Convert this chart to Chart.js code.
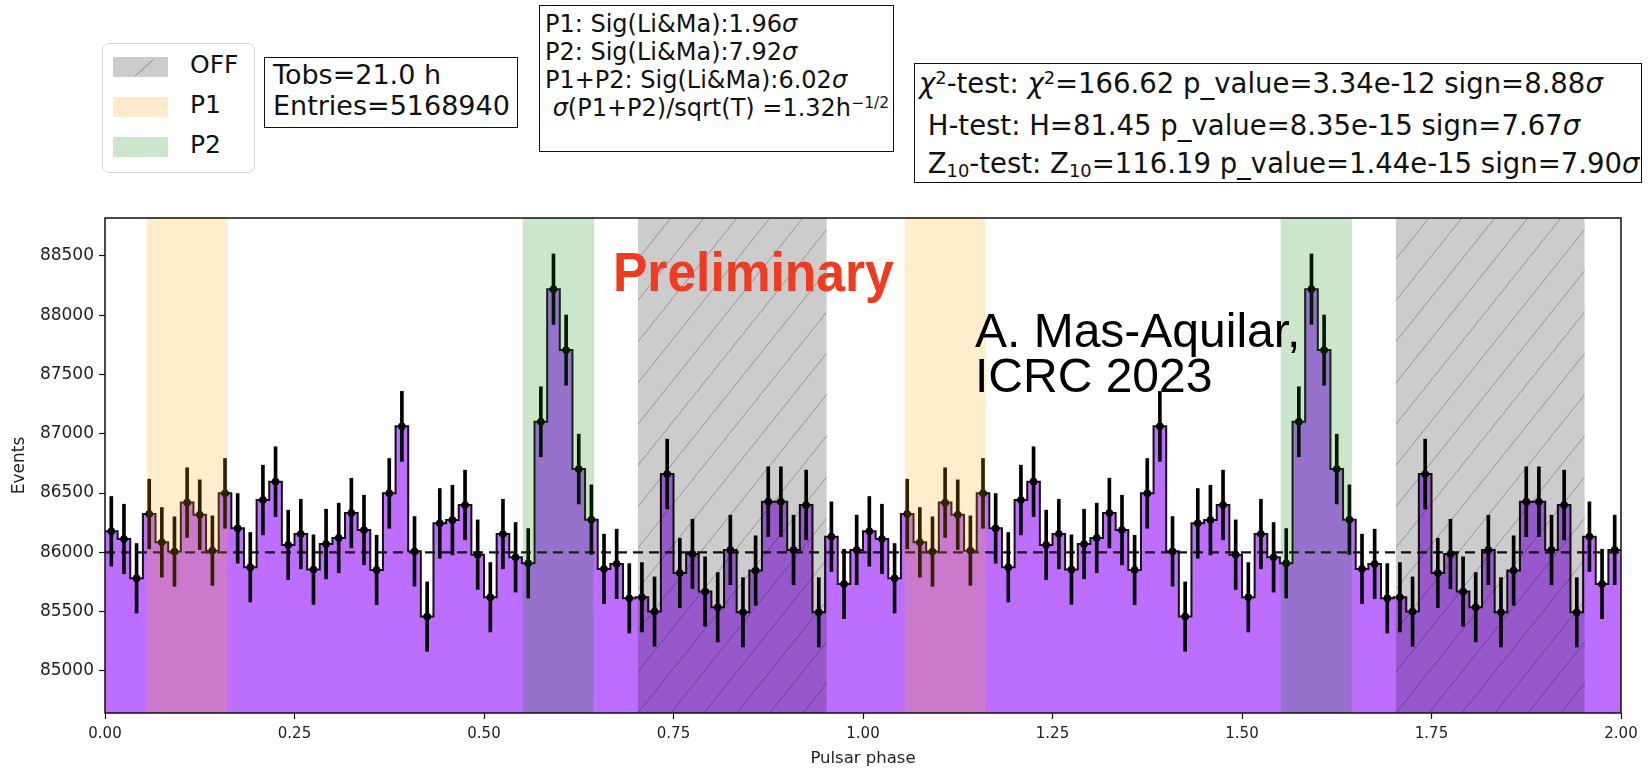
<!DOCTYPE html>
<html>
<head>
<meta charset="utf-8">
<script src="https://cdn.jsdelivr.net/npm/chart.js@4.4.1/dist/chart.umd.min.js"></script>
<style>
  html, body { margin: 0; padding: 0; background: #fff; }
  #wrap { position: relative; width: 1648px; height: 775px; overflow: hidden; }
  #c { position: absolute; left: 0; top: 0; }
  .box { position: absolute; box-sizing: border-box; border: 1.5px solid #111; background: #fff;
         font-family: 'DejaVu Sans', sans-serif; color: #111; white-space: pre; }
  .legend { position: absolute; box-sizing: border-box; border: 1.5px solid #d4d4d4; border-radius: 7px;
            background: #fff; font-family: 'DejaVu Sans', sans-serif; color: #111; }
  .lrow { position: absolute; left: 10px; height: 20px; }
  .lrow .patch { position: absolute; left: 0; top: 0; width: 55px; height: 20px; }
  .lrow .lab { position: absolute; left: 77px; top: -8px; font-size: 25px; line-height: 32px; }
  .prelim { position: absolute; font-family: 'Liberation Sans', Arial, sans-serif; font-weight: bold;
            color: #ef3b1f; font-size: 56px; line-height: 56px; transform: scaleX(0.92); transform-origin: left top; white-space: nowrap; }
  .author { position: absolute; font-family: 'Liberation Sans', Arial, sans-serif; color: #000;
            font-size: 48px; line-height: 45px; white-space: pre; }
  i { font-style: italic; }
  sup { font-size: 65%; vertical-align: 0; position: relative; top: -0.5em; }
  sub { font-size: 65%; vertical-align: 0; position: relative; top: 0.25em; }
</style>
</head>
<body>
<div id="wrap">
  <canvas id="c" width="1648" height="775"></canvas>

  <div class="legend" style="left:102px; top:43px; width:153px; height:130px;">
    <div class="lrow" style="top:13px;">
      <svg class="patch" width="55" height="20" viewBox="0 0 55 20">
        <rect x="0" y="0" width="55" height="20" fill="#cccccc"/>
        <line x1="22" y1="19" x2="40" y2="3" stroke="#8a8a8a" stroke-width="1"/>
      </svg>
      <div class="lab">OFF</div>
    </div>
    <div class="lrow" style="top:53px;">
      <div class="patch" style="background:#ffebcc;"></div>
      <div class="lab">P1</div>
    </div>
    <div class="lrow" style="top:93px;">
      <div class="patch" style="background:#cce6cc;"></div>
      <div class="lab">P2</div>
    </div>
  </div>

  <div class="box" style="left:264px; top:57px; width:254px; height:71px; font-size:27px; line-height:30.5px; padding:2px 0 0 8px;">Tobs=21.0 h
Entries=5168940</div>

  <div class="box" style="left:539px; top:5px; width:355px; height:147px; font-size:24px; line-height:28px; padding:4px 0 0 5px;">P1: Sig(Li&amp;Ma):1.96<i>σ</i>
P2: Sig(Li&amp;Ma):7.92<i>σ</i>
P1+P2: Sig(Li&amp;Ma):6.02<i>σ</i>
 <i>σ</i>(P1+P2)/sqrt(T) =1.32h<sup>−1/2</sup></div>

  <div class="box" style="left:914px; top:63px; width:728px; height:120px; font-size:27.5px; line-height:38px; padding:0 0 0 4px;"><i>χ</i><sup>2</sup>-test: <i>χ</i><sup>2</sup>=166.62 p_value=3.34e-12 sign=8.88<i>σ</i>
 H-test: H=81.45 p_value=8.35e-15 sign=7.67<i>σ</i>
 Z<sub>10</sub>-test: Z<sub>10</sub>=116.19 p_value=1.44e-15 sign=7.90<i>σ</i></div>

  <div class="prelim" style="left:613px; top:244px;">Preliminary</div>
  <div class="author" style="left:975px; top:308px;">A. Mas-Aquilar,
ICRC 2023</div>
</div>

<script>
// ---- data (one pulsar cycle, 60 phase bins) ----
const binsPerCycle = 60;
const counts = [
  86177, 86112, 85781, 86323, 86084, 86006, 86419, 86317, 86014, 86497,
  86202, 85874, 86441, 86596, 86062, 86154, 85854, 86070, 86121, 86331,
  86188, 85851, 86497, 87062, 86008, 85458, 86244, 86272, 86399, 85980,
  85621, 86154, 85958, 85907, 87101, 88219, 87705, 86702, 86275, 85860,
  85902, 85612, 85621, 85500, 86660, 85826, 85986, 85669, 85537, 86020,
  85494, 85846, 86427, 86427, 86020, 86399, 85494, 86132, 85733, 86020
];
const backgroundLevel = 86000;
const xTickValues = [0, 0.25, 0.5, 0.75, 1.0, 1.25, 1.5, 1.75, 2.0];
const xTickLabels = ['0.00', '0.25', '0.50', '0.75', '1.00', '1.25', '1.50', '1.75', '2.00'];
const yTickValues = [85000, 85500, 86000, 86500, 87000, 87500, 88000, 88500];
const yTickLabels = ['85000', '85500', '86000', '86500', '87000', '87500', '88000', '88500'];
const xRange = [0, 2];
const yRange = [84645, 88819];
// phase regions (first cycle; repeated in second)
const offRegion = [0.703, 0.952];
const p1Region = [0.055, 0.162];
const p2Region = [0.551, 0.645];

// ---- derived series (two cycles drawn) ----
const phaseCounts = counts.concat(counts);
const binW = 1 / binsPerCycle;
const histPts = phaseCounts.map((c, i) => ({ x: i * binW, y: c }));
histPts.push({ x: 2, y: phaseCounts[phaseCounts.length - 1] });
const centers = phaseCounts.map((c, i) => (i + 0.5) * binW);
const errPts = phaseCounts.map((c, i) => ({ x: centers[i], y: [c - Math.sqrt(c), c + Math.sqrt(c)] }));
const dotPts = phaseCounts.map((c, i) => ({ x: centers[i], y: c }));
const basePts = [{ x: xRange[0], y: backgroundLevel }, { x: xRange[1], y: backgroundLevel }];

const regions = [];
[0, 1].forEach(k => {
  regions.push({ r: [p1Region[0] + k, p1Region[1] + k], color: 'rgba(255,165,0,0.2)', hatch: false });
  regions.push({ r: [p2Region[0] + k, p2Region[1] + k], color: 'rgba(0,128,0,0.2)', hatch: false });
  regions.push({ r: [offRegion[0] + k, offRegion[1] + k], color: 'rgba(0,0,0,0.2)', hatch: true });
});

const overlayPlugin = {
  id: 'overlay',
  afterDatasetsDraw(chart) {
    const { ctx, chartArea: a, scales: { x } } = chart;
    ctx.save();
    ctx.beginPath();
    ctx.rect(a.left, a.top, a.right - a.left, a.bottom - a.top);
    ctx.clip();
    regions.forEach(reg => {
      const x1 = x.getPixelForValue(reg.r[0]);
      const x2 = x.getPixelForValue(reg.r[1]);
      ctx.fillStyle = reg.color;
      ctx.fillRect(x1, a.top, x2 - x1, a.bottom - a.top);
      if (reg.hatch) {
        ctx.save();
        ctx.beginPath();
        ctx.rect(x1, a.top, x2 - x1, a.bottom - a.top);
        ctx.clip();
        ctx.strokeStyle = 'rgba(0,0,0,0.28)';
        ctx.lineWidth = 1;
        const H = a.bottom - a.top;
        const slope = 1.25;
        const dx = H / slope;
        const sp = 33;
        ctx.beginPath();
        for (let x0 = x1 - dx - sp; x0 < x2 + sp; x0 += sp) {
          ctx.moveTo(x0, a.bottom);
          ctx.lineTo(x0 + dx, a.top);
        }
        ctx.stroke();
        ctx.restore();
      }
    });
    ctx.restore();
    ctx.save();
    ctx.strokeStyle = '#111';
    ctx.lineWidth = 1.5;
    ctx.strokeRect(a.left, a.top, a.right - a.left, a.bottom - a.top);
    ctx.restore();
  }
};

const xTickFont = { family: "'DejaVu Sans', sans-serif", size: 15 };
const yTickFont = { family: "'DejaVu Sans', sans-serif", size: 17 };

new Chart(document.getElementById('c'), {
  type: 'line',
  data: {
    datasets: [
      {
        type: 'line', label: 'hist', data: histPts, stepped: 'before',
        borderColor: '#111', borderWidth: 2, backgroundColor: '#bd6eff',
        fill: 'start', pointRadius: 0, order: 4
      },
      {
        type: 'line', label: 'bkg', data: basePts, borderColor: '#111', borderWidth: 2.2,
        borderDash: [10, 6], pointRadius: 0, fill: false, order: 3
      },
      {
        type: 'bar', label: 'err', data: errPts, backgroundColor: '#000', borderWidth: 0,
        barThickness: 3, order: 2
      },
      {
        type: 'scatter', label: 'pts', data: dotPts, backgroundColor: '#000', borderColor: '#000',
        pointRadius: 3.5, showLine: false, order: 1
      }
    ]
  },
  options: {
    responsive: false,
    animation: false,
    layout: { padding: { top: 218, right: 27, left: 0, bottom: 0 } },
    plugins: { legend: { display: false }, tooltip: { enabled: false } },
    scales: {
      x: {
        type: 'linear', min: xRange[0], max: xRange[1], offset: false,
        afterBuildTicks: s => { s.ticks = xTickValues.map(v => ({ value: v })); },
        afterFit: s => { s.height = 62; },
        grid: { drawOnChartArea: false, drawTicks: true, tickLength: 6, color: '#111', tickWidth: 1.2, offset: false },
        border: { display: false },
        ticks: {
          font: xTickFont, color: '#222', padding: 6, maxRotation: 0, autoSkip: false,
          callback: (v) => { const i = xTickValues.indexOf(v); return i >= 0 ? xTickLabels[i] : ''; }
        },
        title: { display: true, text: 'Pulsar phase', font: { family: "'DejaVu Sans', sans-serif", size: 16.5 }, color: '#222', padding: { top: 0, bottom: 6 } }
      },
      y: {
        type: 'linear', min: yRange[0], max: yRange[1],
        afterBuildTicks: s => { s.ticks = yTickValues.map(v => ({ value: v })); },
        afterFit: s => { s.width = 105; },
        grid: { drawOnChartArea: false, drawTicks: true, tickLength: 6, color: '#111', tickWidth: 1.2 },
        border: { display: false },
        ticks: {
          font: yTickFont, color: '#222', padding: 5,
          callback: (v) => { const i = yTickValues.indexOf(v); return i >= 0 ? yTickLabels[i] : ''; }
        },
        title: { display: true, text: 'Events', font: { family: "'DejaVu Sans', sans-serif", size: 17 }, color: '#222', padding: { top: 9, bottom: 0 } }
      }
    }
  },
  plugins: [overlayPlugin]
});
</script>
</body>
</html>
